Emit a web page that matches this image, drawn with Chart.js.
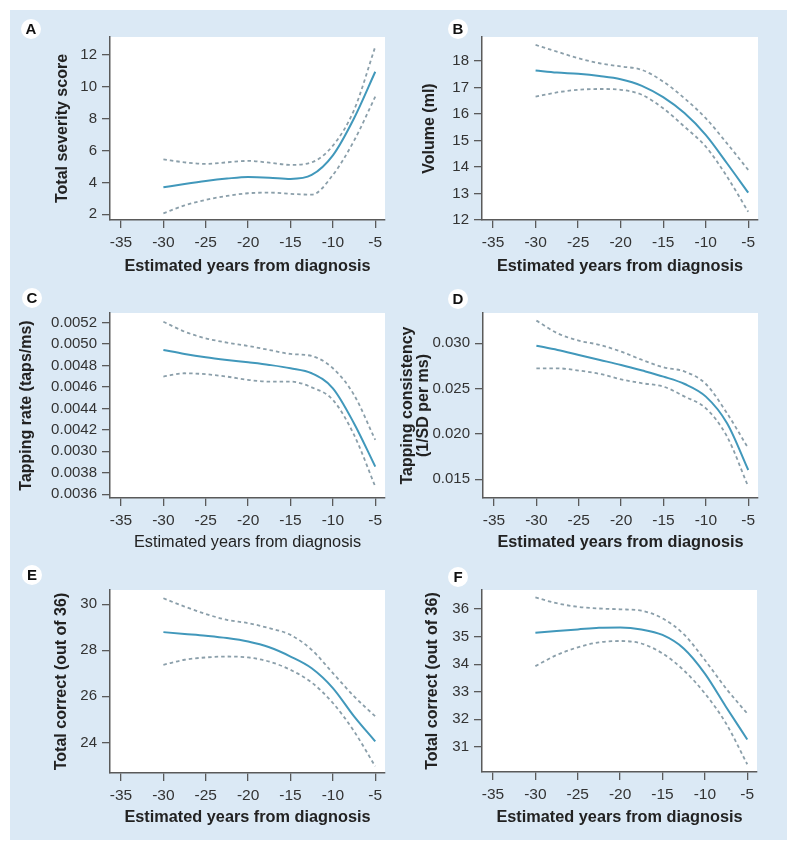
<!DOCTYPE html>
<html><head><meta charset="utf-8">
<script src="https://cdn.jsdelivr.net/npm/chart.js@4.4.0/dist/chart.umd.min.js"></script>
<style>
html,body{margin:0;padding:0;background:#fff;}
body{width:800px;height:850px;position:relative;overflow:hidden;font-family:"Liberation Sans",Arial,sans-serif;}
#bg{position:absolute;left:10px;top:10px;width:777px;height:830px;background:#dbe9f5;}
.pane{position:absolute;}
.pane canvas{display:block;}
.lbl{position:absolute;width:20px;height:20px;border-radius:50%;background:#fff;font:bold 15px "Liberation Sans",Arial,sans-serif;color:#111;text-align:center;line-height:20px;}
</style></head><body>
<div id="bg"></div>
<div class="pane" style="left:10px;top:10px;width:390px;height:270px"><canvas id="cA"></canvas></div>
<div class="pane" style="left:390px;top:10px;width:397px;height:270px"><canvas id="cB"></canvas></div>
<div class="pane" style="left:10px;top:280px;width:390px;height:280px"><canvas id="cC"></canvas></div>
<div class="pane" style="left:390px;top:280px;width:397px;height:280px"><canvas id="cD"></canvas></div>
<div class="pane" style="left:10px;top:560px;width:390px;height:280px"><canvas id="cE"></canvas></div>
<div class="pane" style="left:390px;top:560px;width:397px;height:280px"><canvas id="cF"></canvas></div>
<div class="lbl" style="left:21px;top:19px">A</div>
<div class="lbl" style="left:448px;top:19px">B</div>
<div class="lbl" style="left:22px;top:288px">C</div>
<div class="lbl" style="left:448px;top:289px">D</div>
<div class="lbl" style="left:22px;top:565px">E</div>
<div class="lbl" style="left:448px;top:567px">F</div>
<script>
// ---- data ----
const years = [-30, -27.5, -25, -22.5, -20, -17.5, -15, -12.5, -10, -7.5, -5];
const xTicks = [-35, -30, -25, -20, -15, -10, -5];
const xTitle = 'Estimated years from diagnosis';

const aMid = [3.69, 3.90, 4.09, 4.24, 4.34, 4.30, 4.22, 4.47, 5.70, 8.03, 10.95];
const aUp  = [5.45, 5.26, 5.16, 5.26, 5.35, 5.24, 5.10, 5.26, 6.31, 8.55, 12.52];
const aLo  = [2.06, 2.56, 2.90, 3.15, 3.32, 3.36, 3.28, 3.23, 4.47, 6.62, 9.38];
const aTicks = [2, 4, 6, 8, 10, 12];
const aTickLabels = ['2', '4', '6', '8', '10', '12'];

const bMid = [17.64, 17.56, 17.51, 17.43, 17.31, 17.06, 16.63, 16.03, 15.21, 14.14, 13.03];
const bUp  = [18.60, 18.35, 18.10, 17.91, 17.79, 17.66, 17.22, 16.59, 15.84, 14.89, 13.89];
const bLo  = [16.65, 16.81, 16.91, 16.94, 16.91, 16.72, 16.21, 15.52, 14.77, 13.64, 12.31];
const bTicks = [12, 13, 14, 15, 16, 17, 18];
const bTickLabels = ['12', '13', '14', '15', '16', '17', '18'];

const cMid = [0.004945, 0.004908, 0.004877, 0.004852, 0.004830, 0.004806, 0.004775, 0.004728, 0.004588, 0.004260, 0.003858];
const cUp  = [0.005209, 0.005116, 0.005054, 0.005014, 0.004983, 0.004945, 0.004908, 0.004889, 0.004775, 0.004526, 0.004107];
const cLo  = [0.004697, 0.004728, 0.004719, 0.004697, 0.004666, 0.004650, 0.004650, 0.004597, 0.004480, 0.004153, 0.003672];
const cTicks = [0.0036, 0.0038, 0.0040, 0.0042, 0.0044, 0.0046, 0.0048, 0.0050, 0.0052];
const cTickLabels = ['0.0036', '0.0038', '0.0030', '0.0042', '0.0044', '0.0046', '0.0048', '0.0050', '0.0052'];

const dMid = [0.02974, 0.02926, 0.02871, 0.02816, 0.02761, 0.02699, 0.02632, 0.02551, 0.02412, 0.02118, 0.01603];
const dUp  = [0.03250, 0.03110, 0.03029, 0.02982, 0.02908, 0.02816, 0.02735, 0.02688, 0.02551, 0.02228, 0.01842];
const dLo  = [0.02724, 0.02724, 0.02699, 0.02662, 0.02603, 0.02559, 0.02522, 0.02412, 0.02283, 0.01971, 0.01419];
const dTicks = [0.015, 0.020, 0.025, 0.030];
const dTickLabels = ['0.015', '0.020', '0.025', '0.030'];

const eMid = [28.79, 28.71, 28.63, 28.53, 28.38, 28.13, 27.73, 27.22, 26.36, 25.13, 24.04];
const eUp  = [30.26, 29.90, 29.58, 29.32, 29.18, 28.96, 28.67, 28.02, 27.01, 26.00, 25.13];
const eLo  = [27.37, 27.59, 27.69, 27.73, 27.69, 27.51, 27.15, 26.60, 25.71, 24.48, 22.96];
const eTicks = [24, 26, 28, 30];
const eTickLabels = ['24', '26', '28', '30'];

const fMid = [35.14, 35.20, 35.26, 35.32, 35.33, 35.26, 35.06, 34.57, 33.66, 32.45, 31.27];
const fUp  = [36.42, 36.21, 36.08, 36.02, 35.99, 35.94, 35.66, 35.09, 34.15, 33.12, 32.21];
const fLo  = [33.93, 34.33, 34.61, 34.79, 34.84, 34.75, 34.39, 33.78, 32.94, 31.85, 30.37];
const fTicks = [31, 32, 33, 34, 35, 36];
const fTickLabels = ['31', '32', '33', '34', '35', '36'];

// ---- styles ----
Chart.defaults.font.family = '"Liberation Sans", Arial, Helvetica, sans-serif';
const SOLID = '#4198bb';
const DASH = '#8b9faa';
const AXIS = '#5a5a5a';

const whiteArea = {
  id: 'whiteArea',
  beforeDraw(chart) {
    const a = chart.chartArea, ctx = chart.ctx;
    ctx.save(); ctx.fillStyle = '#ffffff';
    ctx.fillRect(a.left, a.top, a.right - a.left, a.bottom - a.top);
    ctx.restore();
  }
};

function pts(arr) { return years.map((x, i) => ({x: x, y: arr[i]})); }

function makeChart(id, mid, up, lo, yRange, yTicks, yLabels, yTitle, opt) {
  const ds = (arr, dashed) => ({
    data: pts(arr),
    borderColor: dashed ? DASH : SOLID,
    borderWidth: dashed ? 1.8 : 2,
    borderDash: dashed ? [3.5, 3] : [],
    pointRadius: 0,
    fill: false,
    cubicInterpolationMode: 'monotone'
  });
  new Chart(document.getElementById(id), {
    type: 'line',
    data: { datasets: [ds(up, true), ds(lo, true), ds(mid, false)] },
    plugins: [whiteArea],
    options: {
      responsive: true,
      maintainAspectRatio: false,
      animation: false,
      events: [],
      layout: { padding: opt.pad },
      plugins: { legend: { display: false }, tooltip: { enabled: false } },
      scales: {
        x: {
          type: 'linear', min: -36.3, max: -3.85,
          afterBuildTicks: s => { s.ticks = xTicks.map(v => ({value: v})); },
          afterFit: s => { s.height = opt.xH; },
          grid: { drawOnChartArea: false, drawTicks: true, tickLength: 8, color: AXIS, lineWidth: 1.3 },
          border: { display: true, color: AXIS, width: 1.5 },
          ticks: { color: '#333', font: { size: 15.5 }, padding: 5, maxRotation: 0,
                   callback: v => String(v) },
          title: { display: true, text: xTitle, color: '#222', padding: 0,
                   font: { size: 16.3, weight: opt.xBold ? 'bold' : 'normal', lineHeight: 1.2 } }
        },
        y: {
          type: 'linear', min: yRange[0], max: yRange[1],
          afterBuildTicks: s => { s.ticks = yTicks.map(v => ({value: v})); },
          afterFit: s => { s.width = opt.yW; },
          grid: { drawOnChartArea: false, drawTicks: true, tickLength: 8, color: AXIS, lineWidth: 1.3 },
          border: { display: true, color: AXIS, width: 1.5 },
          ticks: { color: '#333', font: { size: 15 }, padding: 5,
                   callback: (v, i) => yLabels[i] },
          title: { display: true, text: yTitle, color: '#222', padding: 0,
                   font: { size: 16, weight: 'bold', lineHeight: opt.yLH || 1.2 } }
        }
      }
    }
  });
}

makeChart('cA', aMid, aUp, aLo, [1.64, 13.13], aTicks, aTickLabels, 'Total severity score',
  { pad: {left: 43.4, right: 15, top: 27, bottom: 3.4}, yW: 56.6, xH: 56.6, xBold: true });
makeChart('cB', bMid, bUp, bLo, [12, 18.9], bTicks, bTickLabels, 'Volume (ml)',
  { pad: {left: 30.4, right: 29, top: 27, bottom: 3.4}, yW: 61.6, xH: 56.6, xBold: true });
makeChart('cC', cMid, cUp, cLo, [0.003565, 0.00529], cTicks, cTickLabels, 'Tapping rate (taps/ms)',
  { pad: {left: 7.4, right: 15, top: 33, bottom: 7.4}, yW: 92.6, xH: 54.6, xBold: false });
makeChart('cD', dMid, dUp, dLo, [0.01294, 0.03334], dTicks, dTickLabels, ['Tapping consistency', '(1/SD per ms)'],
  { pad: {left: 10, right: 29, top: 33, bottom: 7.4}, yW: 83, xH: 54.6, xBold: true, yLH: 1.0 });
makeChart('cE', eMid, eUp, eLo, [22.67, 30.62], eTicks, eTickLabels, 'Total correct (out of 36)',
  { pad: {left: 42.4, right: 15, top: 30, bottom: 12.4}, yW: 57.6, xH: 54.6, xBold: true });
makeChart('cF', fMid, fUp, fLo, [30.09, 36.69], fTicks, fTickLabels, 'Total correct (out of 36)',
  { pad: {left: 33.4, right: 30, top: 30, bottom: 12.4}, yW: 58.6, xH: 55.6, xBold: true });
</script>
</body></html>
